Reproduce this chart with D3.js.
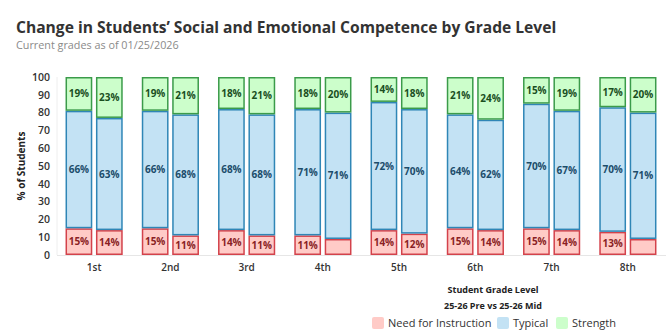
<!DOCTYPE html>
<html><head><meta charset="utf-8">
<script src="https://cdn.jsdelivr.net/npm/d3@7"></script>
<style>body{margin:0;background:#fff;}svg{display:block;font-family:"Open Sans",Lato,sans-serif;}</style>
</head><body><svg id="c" width="670" height="335"></svg>
<script>
const grades = ["1st","2nd","3rd","4th","5th","6th","7th","8th"];
const periods = ["Pre","Mid"];
const needPre = [15,15,14,11,14,15,15,13];
const needMid = [14,11,11,9,12,14,14,9];
const typicalPre = [66,66,68,71,72,64,70,70];
const typicalMid = [63,68,68,71,70,62,67,71];
const strengthPre = [19,19,18,18,14,21,15,17];
const strengthMid = [23,21,21,20,18,24,19,20];
const yTicks = [0,10,20,30,40,50,60,70,80,90,100];
const seriesNames = ["Need for Instruction","Typical","Strength"];

const fills = ["#ffcbc7","#c3e2f4","#ccfecb"];
const strokes = ["#d3424b","#2f86b6","#3b9b4a"];
const labelColors = ["#8a1f25","#1c4d6b","#1a4f1f"];

const svg = d3.select("#c");
const x0 = d3.scaleBand().domain(grades).range([56,666]).paddingInner(0.25).paddingOuter(0.125);
const x1 = d3.scaleBand().domain(periods).range([0,x0.bandwidth()]).paddingInner(0.12);
const y = d3.scaleLinear().domain([0,100]).range([255,77]);

// title
svg.append("text").attr("x",16).attr("y",33).attr("font-size",15.6).attr("font-weight",700).attr("fill","#333").text("Change in Students\u2019 Social and Emotional Competence by Grade Level");
svg.append("text").attr("x",16).attr("y",49).attr("font-size",10.8).attr("fill","#8a8a8a").text("Current grades as of 01/25/2026");

// axis lines
svg.append("line").attr("x1",57).attr("x2",57).attr("y1",y(100)).attr("y2",y(0)).attr("stroke","#eee");
svg.append("line").attr("x1",57).attr("x2",666).attr("y1",y(0)+0.5).attr("y2",y(0)+0.5).attr("stroke","#e6e6e6");

const yAxis = svg.append("g").attr("transform","translate(50,0)").call(d3.axisLeft(y).tickValues(yTicks).tickSize(0).tickPadding(0));
yAxis.select(".domain").remove();
yAxis.selectAll("text").attr("font-size",10.5).attr("font-weight",600).attr("fill","#333").attr("font-family","'Open Sans',sans-serif");

svg.append("text").attr("transform","translate(25,166) rotate(-90)").attr("text-anchor","middle").attr("font-size",10).attr("font-weight",700).attr("fill","#222").text("% of Students");

const xAxis = svg.append("g").attr("transform","translate(0,262)").call(d3.axisBottom(x0).tickSize(0).tickPadding(0));
xAxis.select(".domain").remove();
xAxis.selectAll("text").attr("font-size",10).attr("font-weight",600).attr("fill","#333").attr("dy","0.9em").attr("font-family","'Open Sans',sans-serif");

// data
const rows = [];
grades.forEach((g,i)=>{
  rows.push({grade:g, period:"Pre", vals:[needPre[i],typicalPre[i],strengthPre[i]]});
  rows.push({grade:g, period:"Mid", vals:[needMid[i],typicalMid[i],strengthMid[i]]});
});

rows.forEach(r=>{
  let cum = 0;
  const gx = x0(r.grade)+x1(r.period);
  const w = x1.bandwidth();
  r.vals.forEach((v,si)=>{
    const y0 = y(cum), y1v = y(cum+v);
    svg.append("rect").attr("x",gx+0.75).attr("y",y1v+0.75).attr("width",w-1.5).attr("height",Math.max(0,y0-y1v-1.5))
      .attr("fill",fills[si]).attr("stroke",strokes[si]).attr("stroke-width",1.5);
    if (v >= 10) {
      svg.append("text").attr("x",gx+w/2).attr("y",(y0+y1v)/2).attr("dy","0.35em").attr("text-anchor","middle")
        .attr("font-size",10).attr("font-weight",700).attr("fill",labelColors[si]).text(v+"%");
    }
    cum += v;
  });
});

// bottom titles
svg.append("text").attr("x",493).attr("y",293).attr("text-anchor","middle").attr("font-size",9).attr("font-weight",700).attr("fill","#222").text("Student Grade Level");
svg.append("text").attr("x",493).attr("y",309).attr("text-anchor","middle").attr("font-size",9).attr("font-weight",700).attr("fill","#222").text("25-26 Pre vs 25-26 Mid");

// legend
const legX = [372,497,556];
seriesNames.forEach((n,i)=>{
  svg.append("rect").attr("x",legX[i]).attr("y",317).attr("width",12).attr("height",12).attr("rx",2).attr("fill",fills[i]);
  svg.append("text").attr("x",legX[i]+16).attr("y",327).attr("font-size",11).attr("fill","#333").text(n);
});
</script></body></html>
